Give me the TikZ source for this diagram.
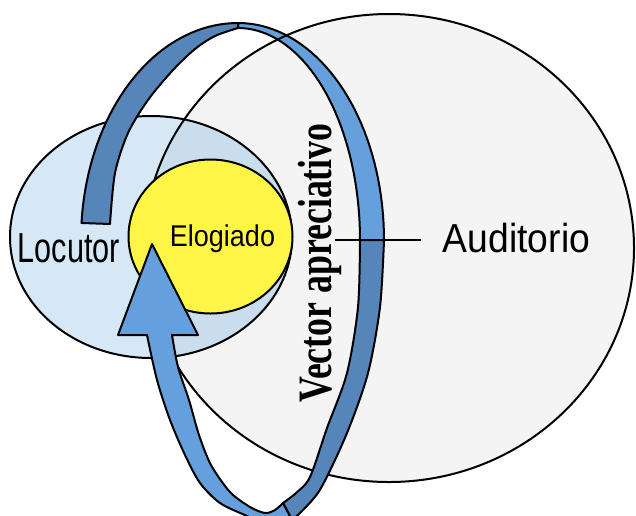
\documentclass[tikz,border=0pt]{standalone}
\usepackage{fontspec}
\setmainfont{Liberation Sans}
\newfontfamily\vecfont{Liberation Serif}

\definecolor{audfill}{HTML}{F4F4F4}
\definecolor{locfill}{HTML}{D6E8F6}
\definecolor{overlapfill}{HTML}{CADDED}
\definecolor{elofill}{HTML}{FFF546}
\definecolor{ringlight}{HTML}{66A0DC}
\definecolor{ringdark}{HTML}{5585B9}

\begin{document}
\begin{tikzpicture}[x=1pt,y=-1pt,
  outline/.style={draw=black,line width=2pt},
  band/.style={draw=black,line width=2pt,line join=round},
  connector/.style={draw=black,line width=1.6pt},
  label/.style={inner sep=0pt,anchor=base,text=black}]
\useasboundingbox (0,0) rectangle (636,515);

% centres of the three discs
\coordinate (audc) at (389,248);
\coordinate (locc) at (151,237);
\coordinate (eloc) at (210.5,236.5);

% Auditorio and Locutor discs, with their common part shaded
\fill[audfill] (audc) ellipse [x radius=245, y radius=234];
\fill[locfill] (locc) ellipse [x radius=141, y radius=121];
\begin{scope}
  \clip (locc) ellipse [x radius=141, y radius=121];
  \fill[overlapfill] (audc) ellipse [x radius=245, y radius=234];
\end{scope}
\draw[outline] (locc) ellipse [x radius=141, y radius=121];

% back part of the ring (upper right), two quarter ellipses
\filldraw[band, fill=ringlight]
  plot[domain=90:0, samples=40, variable=\t] ({238+146*cos(\t)}, {240-217*sin(\t)})
  -- (360,240)
  -- plot[domain=0:90, samples=40, variable=\t] ({238+122*cos(\t)}, {240-212*sin(\t)})
  -- cycle;

\draw[outline] (audc) ellipse [x radius=245, y radius=234];

% Elogiado disc
\filldraw[outline, fill=elofill] (eloc) ellipse [x radius=82, y radius=77];

% front part of the ring: tail, lower right, and the rising arrow
\filldraw[band, fill=ringdark]
  plot[domain=175.5:90, samples=40, variable=\t] ({238+157*cos(\t)}, {240-217*sin(\t)})
  -- (238,28)
  -- plot[smooth] coordinates {(238,28) (215,36) (195,49) (173,70) (148,100) (128,133) (115,173) (110,224)}
  -- cycle;

\filldraw[band, fill=ringdark]
  plot[smooth] coordinates {(384,240) (380,307) (368,373) (347,433) (321,488) (303,510) (292,520)}
  -- (283,503)
  -- plot[smooth] coordinates {(283,503) (296,493) (310,477) (327,428) (347,373) (358,307) (360,240)}
  -- cycle;

\filldraw[band, fill=ringlight]
  plot[smooth] coordinates {(292,520) (270,526) (247,516) (220,503) (200,483) (185,455) (170,420) (157,380) (147,335)}
  -- (118,335) -- (152,244) -- (198,335) -- (172,335)
  -- plot[smooth] coordinates {(172,335) (178,367) (189,400) (199,435) (211,465) (230,492) (250,507) (265,513) (275,510) (283,503)}
  -- cycle;

% labels
\node[label] (locutor) at (69,262)
  {\scalebox{0.73}[1]{\fontsize{42}{42}\selectfont Locutor}};
\node[label] (elogiado) at (222.5,246)
  {\scalebox{0.9}[1]{\fontsize{30}{30}\selectfont Elogiado}};
\node[label, inner xsep=22pt] (auditorio) at (516.5,252)
  {\scalebox{0.92}[1]{\fontsize{40.5}{40.5}\selectfont Auditorio}};
\node[label, rotate=90] (vector) at (331,263)
  {\scalebox{0.745}[1]{\fontsize{48}{48}\selectfont\vecfont\bfseries Vector apreciativo}};

% pointer from the ring to the Auditorio label
\coordinate (vecline) at (335,240);
\draw[connector] (vecline) -- (vecline -| auditorio.west);
\end{tikzpicture}
\end{document}
